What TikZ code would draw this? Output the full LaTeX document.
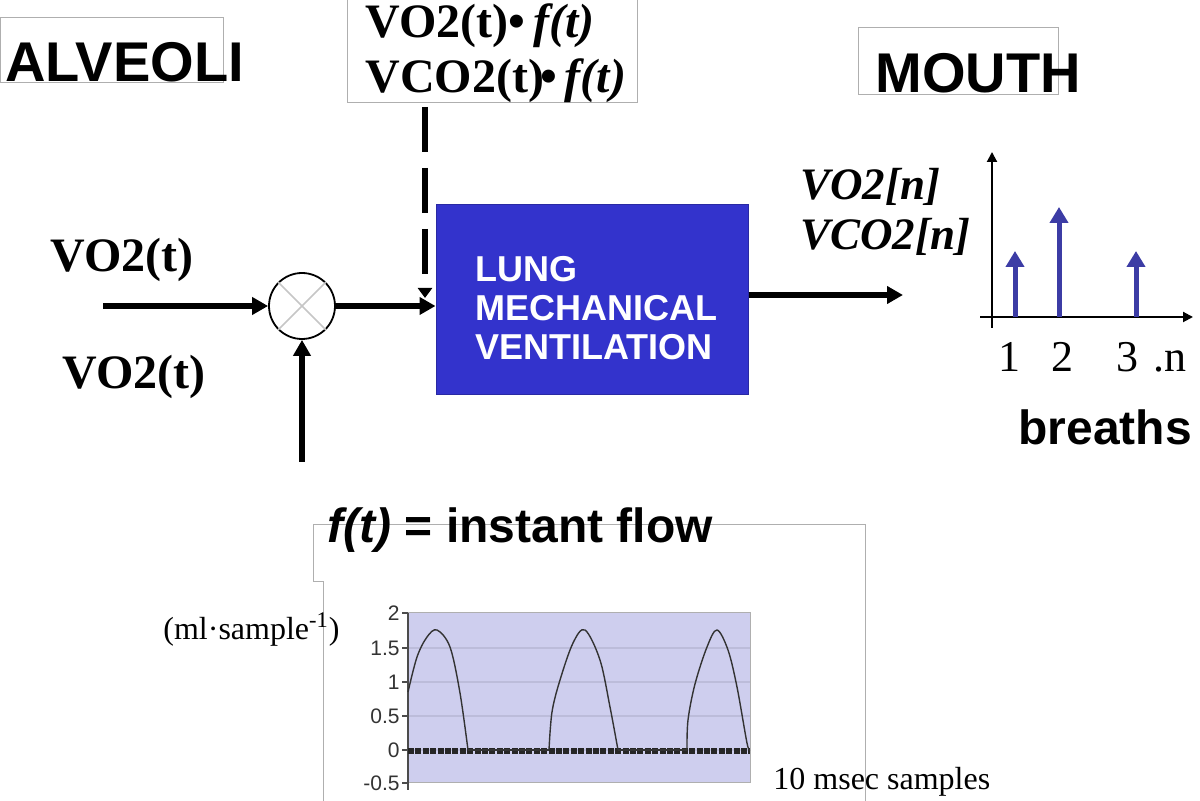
\documentclass[tikz,border=0pt]{standalone}
\usepackage{fontspec}
\setmainfont{Liberation Serif}
\setsansfont{Liberation Sans}
\usetikzlibrary{arrows.meta}
\definecolor{lungblue}{RGB}{51,51,204}
\definecolor{stemblue}{RGB}{60,60,165}
\definecolor{lav}{RGB}{206,206,238}
\definecolor{gridc}{RGB}{188,188,218}
\definecolor{boxgray}{RGB}{175,175,175}
\tikzset{
  lbl/.style={inner sep=0pt, anchor=base west},
  bigsans/.style={lbl, font=\sffamily\bfseries\fontsize{28}{32}\selectfont},
  midsans/.style={lbl, font=\sffamily\bfseries\fontsize{24}{28}\selectfont},
  boldserif/.style={lbl, font=\bfseries\fontsize{24}{28}\selectfont},
  bitserif/.style={lbl, font=\bfseries\itshape\fontsize{22.5}{27}\selectfont},
  numserif/.style={lbl, font=\fontsize{22}{26}\selectfont},
  smallserif/.style={lbl, font=\fontsize{16}{19}\selectfont},
  lungtxt/.style={lbl, text=white, font=\sffamily\bfseries\fontsize{18}{20}\selectfont},
  ticklbl/.style={inner sep=0pt, anchor=east, text=black!80, font=\sffamily\fontsize{10.5}{12}\selectfont},
  graybox/.style={draw=boxgray, line width=0.5pt, inner sep=0pt},
  arr/.style={line width=3pt, -{Triangle[length=8pt,width=8.5pt]}},
  thinarr/.style={line width=1pt, -{Triangle[length=5pt,width=5pt]}},
  stem/.style={line width=2.5pt, draw=stemblue, -{Triangle[length=8pt,width=9pt]}},
  wave/.style={line width=0.7pt, draw=black!80, line join=round},
}
\begin{document}
\begin{tikzpicture}[x=0.5pt,y=-0.5pt]
\useasboundingbox (0,0) rectangle (1200,801);

% title boxes
\node[graybox, minimum width=111.5pt, minimum height=32.5pt] (alvbox) at (111.5,50.5) {};
\node[bigsans] (alv) at (5,82) {ALVEOLI};
\node[graybox, minimum width=100pt, minimum height=33.5pt] (moubox) at (958,61.5) {};
\node[bigsans] (mou) at (875,93) {MOUTH};

% top formula box
\node[graybox, minimum width=145pt, minimum height=52.5pt] (vobox) at (492,50.5) {};
\node[boldserif] (vo1) at (365,38) {VO2(t)•\,\textit{f(t)}};
\node[boldserif] (vo2) at (365,93) {VCO2(t)\kern-2pt•\,\textit{f(t)}};

% input labels
\node[boldserif] (in1) at (50,272) {VO2(t)};
\node[boldserif] (in2) at (62,389) {VO2(t)};

% multiplier
\node[circle, draw, line width=0.9pt, minimum size=33pt, inner sep=0pt] (mult) at (302,306) {};
\draw[gray!45, line width=0.8pt] (mult.north west) -- (mult.south east);
\draw[gray!45, line width=0.8pt] (mult.north east) -- (mult.south west);

% lung block
\node[draw=lungblue!80!black, line width=0.5pt, fill=lungblue, minimum width=156pt, minimum height=95pt, inner sep=0pt] (lung) at (592,300) {};
\node[lungtxt] (l1) at (475,282) {LUNG};
\node[lungtxt] (l2) at (475,321) {MECHANICAL};
\node[lungtxt] (l3) at (475,360) {VENTILATION};

% connectors
\coordinate (src) at (103,306);
\coordinate (fsrc) at (302,462);
\coordinate (dtop) at (425,107);
\coordinate (dend) at (425,298);
\coordinate (outend) at (903,295);
\draw[arr] (src) -- (mult.west);
\draw[arr] (fsrc) -- (mult.south);
\draw[arr] (mult.east) -- (mult.east -| lung.west);
\draw[line width=3pt, dash pattern=on 22.5pt off 8pt, -{Triangle[length=5pt,width=7pt]}] (dtop) -- (dend);
\draw[arr] (outend -| lung.east) -- (outend);

% output labels
\node[bitserif] (on1) at (800,200) {VO2[n]};
\node[bitserif] (on2) at (800,250) {VCO2[n]};

% breath inset
\coordinate (yb) at (992,328);
\coordinate (yt) at (992,152);
\coordinate (xl) at (980,317);
\coordinate (xr) at (1193,317);
\draw[thinarr] (yb) -- (yt);
\draw[thinarr] (xl) -- (xr);
\coordinate (s1) at (1015,317); \coordinate (t1) at (1015,251);
\coordinate (s2) at (1059,317); \coordinate (t2) at (1059,207);
\coordinate (s3) at (1136,317); \coordinate (t3) at (1136,251);
\draw[stem] (s1) -- (t1);
\draw[stem] (s2) -- (t2);
\draw[stem] (s3) -- (t3);
\node[numserif] (n1) at (998,372) {1};
\node[numserif] (n2) at (1051,372) {2};
\node[numserif] (n3) at (1116,372) {3};
\node[numserif] (nn) at (1153,372) {.n};
\node[midsans] (br) at (1018,445) {breaths};

% flow panel
\draw[draw=boxgray, line width=0.5pt] (313,582) -- (313,525) -- (865,525) -- (865,801);
\draw[draw=boxgray, line width=0.5pt] (313,582) -- (323,582) -- (323,801);
\node[midsans] (ft) at (327,543) {\textit{f(t)} = instant flow};

\node[draw=boxgray, line width=0.5pt, fill=lav, minimum width=171pt, minimum height=85pt, inner sep=0pt] (plot) at (579,698) {};
\foreach \yy in {648,682,716,750} \draw[gridc, line width=0.6pt] (408,\yy) -- (750,\yy);
\draw[black!70, line width=0.7pt] (408,613) -- (408,790);
\foreach \yy/\lab in {613/2,648/1.5,682/1,716/0.5,750/0,783/-0.5}{
  \draw[black!70, line width=0.7pt] (402,\yy) -- (408,\yy);
  \node[ticklbl] at (400,\yy) {\lab};
}
\draw[black!85, line width=2.6pt, dash pattern=on 3pt off 0.7pt] (408,751) -- (750,751);
\draw[wave] plot[smooth, tension=0.55] coordinates {(408,692) (417,657) (427,637) (437,630) (450,647) (460,693) (468,750)};
\draw[wave] (468,750) -- (549,750);
\draw[wave] plot[smooth, tension=0.55] coordinates {(549,750) (552,712) (560,680) (573,643) (585,630) (600,660) (610,707) (618,750)};
\draw[wave] (618,750) -- (687,750);
\draw[wave] plot[smooth, tension=0.55] coordinates {(687,750) (688,720) (695,684) (707,647) (717,630) (728,650) (737,687) (747,743) (750,750)};

\node[smallserif] (unit) at (163,640) {(ml·sample\textsuperscript{-1})};
\node[smallserif] (xs) at (773,790) {10 msec samples};
\end{tikzpicture}
\end{document}
